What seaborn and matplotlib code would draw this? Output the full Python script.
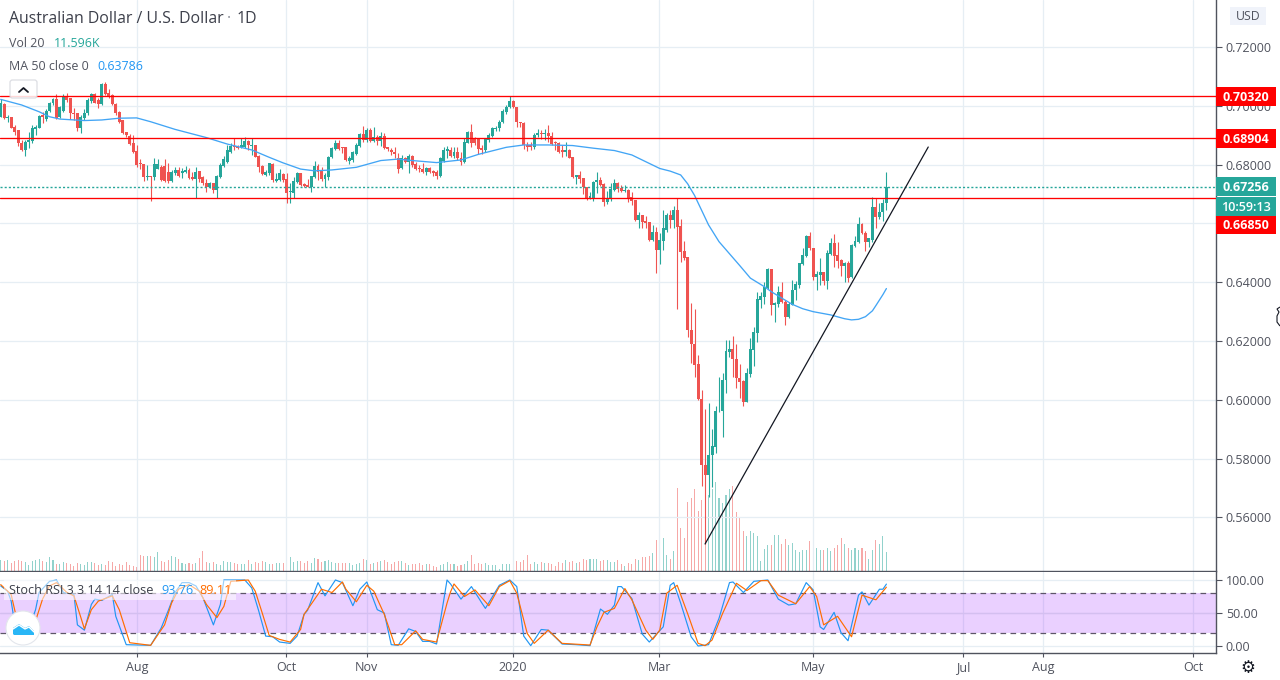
import numpy as np
import matplotlib
matplotlib.use("Agg")
import matplotlib.pyplot as plt
from matplotlib.patches import Rectangle, FancyBboxPatch, Circle, Polygon
from matplotlib.lines import Line2D
from matplotlib.transforms import Affine2D
import seaborn as sns

# ---- prices in 1/10000 of a USD, one entry per daily bar ----
opens = [
6963,7005,6960,6963,6927,6918,6875,6850,6876,6882,
6921,6926,6969,6954,6984,7009,7022,6961,6984,7031,
7026,6977,6975,6924,6958,6975,7017,7040,7020,7006,
7074,7045,7037,7006,6980,6952,6912,6898,6873,6847,
6805,6802,6758,6760,6757,6785,6791,6797,6776,6746,
6771,6782,6773,6776,6782,6759,6751,6779,6757,6737,
6725,6737,6714,6757,6796,6810,6844,6864,6864,6859,
6861,6882,6864,6867,6830,6796,6765,6771,6802,6746,
6748,6768,6750,6706,6705,6742,6771,6733,6731,6725,
6759,6796,6779,6750,6757,6825,6852,6873,6859,6859,
6814,6816,6836,6864,6904,6884,6918,6882,6893,6882,
6898,6859,6850,6844,6822,6788,6822,6810,6830,6802,
6788,6785,6776,6790,6779,6776,6762,6814,6848,6850,
6830,6842,6824,6810,6875,6910,6890,6887,6856,6850,
6884,6898,6920,6924,6944,6980,6995,7018,6995,6946,
6943,6867,6867,6859,6901,6907,6904,6909,6898,6878,
6875,6850,6844,6850,6825,6759,6765,6756,6725,6686,
6688,6740,6748,6734,6673,6686,6714,6737,6720,6712,
6714,6689,6680,6612,6629,6609,6604,6544,6571,6510,
6542,6578,6629,6612,6646,6592,6507,6487,6238,6190,
6122,6004,5779,5745,5811,5841,5961,5961,6066,6164,
6173,6138,6074,6065,5994,6088,6170,6229,6340,6351,
6381,6445,6321,6327,6367,6334,6282,6323,6372,6391,
6462,6490,6558,6517,6419,6425,6435,6406,6496,6533,
6493,6476,6456,6466,6417,6524,6537,6598,6569,6537,
6543,6657,6621,6638,6668]
highs = [
7022,7009,6969,6963,6935,6918,6884,6884,6912,6935,
6935,6969,6980,6988,7014,7026,7040,7000,7040,7045,
7026,6992,6975,6969,6988,7026,7043,7043,7026,7079,
7080,7056,7040,7009,6984,6952,6912,6904,6901,6867,
6818,6802,6799,6760,6822,6818,6799,6818,6805,6782,
6793,6791,6788,6796,6788,6776,6791,6779,6763,6751,
6742,6737,6765,6805,6830,6867,6875,6890,6867,6892,
6895,6884,6890,6867,6833,6799,6782,6807,6805,6771,
6784,6773,6773,6737,6757,6776,6771,6737,6750,6762,
6814,6802,6791,6771,6830,6861,6884,6884,6861,6861,
6830,6848,6873,6909,6932,6924,6924,6929,6901,6912,
6909,6861,6856,6859,6839,6833,6827,6835,6833,6810,
6799,6805,6793,6791,6782,6782,6827,6861,6864,6859,
6859,6859,6844,6890,6916,6938,6893,6890,6867,6890,
6907,6929,6932,6952,6988,7003,7034,7020,6995,6946,
6946,6878,6878,6909,6920,6918,6920,6935,6912,6882,
6878,6867,6878,6852,6827,6765,6780,6756,6725,6708,
6746,6776,6759,6737,6711,6737,6750,6742,6731,6731,
6716,6708,6680,6640,6629,6626,6604,6595,6587,6569,
6646,6635,6646,6660,6686,6614,6541,6487,6329,6308,
6153,6034,5968,5989,5900,5980,6077,6093,6204,6204,
6218,6190,6122,6068,6108,6210,6249,6366,6368,6400,
6450,6445,6334,6388,6400,6340,6334,6408,6406,6467,
6516,6561,6572,6517,6439,6481,6436,6510,6550,6564,
6538,6478,6470,6473,6529,6558,6621,6601,6575,6550,
6689,6686,6671,6683,6774]
lows = [
6961,6954,6946,6924,6901,6864,6847,6831,6856,6875,
6901,6924,6941,6949,6980,7003,6954,6957,6980,7014,
6954,6952,6916,6909,6952,6969,7009,7009,6992,7003,
7037,7026,7003,6969,6941,6904,6895,6867,6839,6793,
6785,6745,6748,6678,6748,6785,6746,6742,6737,6742,
6765,6759,6754,6771,6751,6748,6686,6742,6731,6708,
6720,6705,6686,6754,6793,6805,6839,6850,6852,6856,
6856,6850,6833,6825,6776,6765,6762,6765,6742,6742,
6746,6742,6671,6671,6686,6737,6728,6725,6723,6708,
6754,6748,6746,6723,6748,6822,6850,6850,6839,6814,
6802,6810,6833,6859,6878,6878,6878,6878,6867,6864,
6852,6848,6833,6822,6771,6784,6807,6771,6793,6782,
6776,6771,6765,6773,6762,6750,6757,6810,6822,6827,
6822,6816,6799,6805,6873,6859,6867,6836,6836,6844,
6878,6895,6916,6916,6941,6972,6992,6992,6927,6929,
6852,6848,6850,6852,6895,6886,6884,6878,6867,6850,
6839,6827,6830,6822,6754,6734,6737,6700,6680,6682,
6678,6703,6728,6660,6666,6678,6711,6708,6706,6708,
6674,6663,6610,6586,6586,6586,6541,6542,6433,6463,
6510,6572,6584,6584,6308,6470,6476,6215,6125,6079,
6000,5706,5510,5670,5704,5819,5960,5873,6025,6145,
6077,6040,6006,5980,5994,6079,6116,6198,6314,6327,
6378,6287,6265,6317,6329,6256,6280,6321,6340,6382,
6459,6487,6510,6408,6374,6391,6391,6378,6493,6453,
6448,6423,6402,6402,6414,6519,6535,6564,6507,6519,
6538,6584,6614,6610,6646]
closes = [
7009,6958,6963,6924,6912,6873,6850,6878,6884,6924,
6927,6966,6963,6984,7011,7022,6958,6997,7031,7020,
6975,6972,6924,6963,6977,7020,7040,7009,7006,7074,
7040,7034,7005,6975,6946,6907,6901,6870,6844,6799,
6802,6757,6762,6757,6802,6802,6748,6746,6746,6776,
6782,6763,6780,6782,6754,6751,6776,6751,6737,6725,
6737,6714,6762,6799,6818,6850,6864,6859,6857,6867,
6882,6867,6867,6825,6791,6768,6776,6805,6748,6750,
6771,6748,6703,6711,6745,6771,6731,6729,6725,6762,
6796,6776,6750,6765,6827,6856,6873,6852,6856,6816,
6822,6844,6867,6904,6884,6918,6882,6895,6882,6898,
6856,6852,6842,6836,6785,6822,6810,6830,6799,6784,
6784,6776,6790,6776,6771,6762,6822,6850,6852,6830,
6842,6822,6810,6878,6912,6875,6875,6852,6850,6886,
6901,6926,6926,6946,6984,6997,7018,6995,6946,6941,
6867,6861,6859,6901,6907,6903,6909,6898,6870,6873,
6842,6844,6850,6824,6757,6765,6751,6723,6682,6695,
6742,6748,6731,6674,6686,6716,6737,6716,6711,6714,
6683,6678,6612,6630,6606,6603,6544,6571,6510,6544,
6585,6629,6612,6646,6589,6504,6482,6236,6189,6119,
6002,5777,5745,5813,5844,5963,5963,6068,6167,6172,
6138,6073,6062,5994,6091,6173,6230,6342,6354,6383,
6445,6321,6330,6367,6334,6282,6327,6374,6395,6467,
6493,6559,6515,6417,6428,6435,6406,6500,6533,6490,
6473,6456,6466,6414,6527,6541,6598,6567,6537,6549,
6657,6621,6638,6669,6725.6]

# volume in thousands, latest bar last
volumes = [
7,6,
7,5,6,6.6,6,5.6,3.6,6,7,7.6,6,5.4,8.4,6.6,4.4,4,5.4,5,4.4,3.2,
5,4,3.6,5.6,5.4,5,3.6,4,3.4,6,5.6,3,4,3.6,5.4,3.6,3,2.6,10,9.4,
9.2,9.2,8.4,11.4,6,5.6,7,9.4,8.4,7.6,4.8,4,4.6,4,5,8,12,5.4,5,5.4,
4,3.4,6,5.4,5.6,5,4.4,4.4,4.4,6.4,4,5.4,4.6,6,5.4,4,4,5,5,5,
4.4,8.4,5.4,6,6,5,6,5,8,7.6,5.6,6,6.4,5.6,5,4.6,4.6,5,5,3.6,
4,5,7.4,7,4.4,5,5.4,6,7,5.4,4,5.6,6,6,5,3.6,4.4,4.4,5,3.6,
4.4,4,3,2.6,3.4,4.4,5.4,
4,4,3,3.6,4.4,6,9.6,4,5,4,5,3.6,3.6,3.6,1,4.4,4.4,4.4,5,6,
5.6,6.4,9.6,4.4,5.6,4.4,5.4,5,5,4.4,3,5.4,5,6.6,5.6,6,5,5.6,7.4,6.6,
7.4,7.4,7.4,6,6.6,6.6,5.4,5.4,7,4.4,3,5,4.4,7.6,6.4,8.4,8.4,9.4,11,18.6,
19,20.4,10,7.6,12,50.4,26.4,20.4,42,44.4,50,36.6,43,54,46.6,50,54,44.2,41.6,46.2,
50,51.6,36,32.6,24.6,21.6,24.6,23.2,21.6,6,13.2,15.6,15.6,22,22,16.2,19.6,15.6,17.2,12.6,
11.6,13,12.6,18,13.2,13.8,12.6,12.6,13.8,12,13.8,15.6,20.2,16.6,14.2,12.6,14.2,12.6,13.8,12,
7.2,12.6,18.6,16.6,21.6,11.596]

ma_bars = [1,7,12,15,18,25,30,35,40,44,51,60,66,73,78,82,87,91,96,103,110,115,119,126,133,138,
           146,151,158,165,171,177,182,186,190,193,196,198,200,202,204,207,210,213,216,220,222,225,228,231,234,239,243,245,247,249,251,252,254,255]
ma_values = [7022,7003,6980,6963,6955,6950,6952,6958,6959,6946,6920,6892,6870,6850,6825,6806,6785,6779,6782,6791,6814,6819,6814,6807,6816,6835,
             6859,6867,6867,6865,6856,6848,6833,6810,6787,6778,6765,6735,6695,6645,6595,6538,6497,6456,6414,6385,6368,6346,6325,6310,6300,6289,6276,6272,6274,6283,6303,6321,6358,6378.6]

k_bars = [1,3,4,5,7,9,11,12,15,17,19,22,23,25,27,28,30,33,34,37,44,47,49,51,53,55,57,59,62,64,65,71,73,75,77,79,81,84,86,88,89,92,94,97,99,102,104,106,109,111,113,115,118,120,122,124,126,129,
          130,133,136,139,140,144,147,149,151,153,156,158,162,166,170,173,175,177,178,179,182,185,187,191,193,194,196,199,201,204,207,210,211,214,217,221,224,227,229,232,234,236,237,240,242,244,247,248,250,253,254,255]
k_values = [91,83,68,35,25,25,55,81,98,100,81,78,32,24,63,71,69,78,45,2,1,27,53,81,96,96,91,73,32,63,100,100,88,53,15,14,6,4,15,48,54,96,76,100,96,61,86,97,55,50,2,1,26,22,7,7,3,100,
            94,71,90,65,57,92,100,90,15,0.5,25,24,3,2,0.5,56,48,62,90,90,72,18,6,29,92,96,65,14,0,2,42,96,97,81,98,100,71,62,64,96,85,29,25,51,20,8,77,82,62,86,86,93.76]
d_bars = [1,4,6,9,11,13,15,17,20,22,24,25,27,29,33,35,38,44,48,50,52,55,58,60,63,65,67,72,74,76,78,81,84,87,88,90,93,96,99,100,103,106,108,111,114,116,120,122,126,129,
          130,131,134,137,141,144,147,149,152,154,158,162,170,172,174,177,180,182,186,188,190,192,195,198,201,203,205,208,212,215,219,221,224,229,233,235,237,241,245,248,252,255]
d_values = [93,78,32,22,38,71,91,96,81,76,43,26,55,68,76,55,5,1,32,65,86,93,83,63,43,60,98,100,83,50,16,10,6,25,48,63,86,81,97,86,67,92,83,48,2,2,23,10,6,65,
            82,94,75,85,61,90,99,80,19,4,24,4,1.5,29,51,57,87,70,24,10,24,80,92,49,4,0.5,9,49,95,84,99,99,77,64,90,75,32,45,14,77,70,89.11]

month_labels = ["Aug", "Oct", "Nov", "2020", "Mar", "May", "Jul", "Aug", "Oct"]
month_bars = [40.1, 82.8, 106.0, 147.9, 189.8, 234.0, 277.0, 300.0, 343.0]
price_ticks = [0.56, 0.58, 0.60, 0.62, 0.64, 0.66, 0.68, 0.70, 0.72]
hline_levels = [0.70320, 0.68904, 0.66850]
last_price = 0.67256
trend_bars = [203, 267]
trend_prices = [0.5510, 0.6860]

# ---- style ----
sns.set_style("white")
plt.rcParams['font.family'] = ['Open Sans', 'DejaVu Sans']
GREEN, RED = '#26a69a', '#ef5350'
TXT = '#50535e'
GRID = '#e6eef4'
AXC = '#50535e'

W, H = 1280, 680
AX_W = 1216
fig = plt.figure(figsize=(W/100, H/100), dpi=100, facecolor='white')
px = Affine2D().scale(1, -1).translate(0, H)

XL = (0.8, 1 + (AX_W - 0.7) / 3.487)
ax_vol = fig.add_axes([0, (H-571)/H, AX_W/W, 571/H], zorder=1)
ax = fig.add_axes([0, (H-571)/H, AX_W/W, 571/H], zorder=2)
ax.patch.set_visible(False)
ax_st = fig.add_axes([0, (H-653)/H, AX_W/W, 81/H], zorder=2)

o, h, l, c = [np.array(a, dtype=float)/10000 for a in (opens, highs, lows, closes)]
bars = np.arange(1, len(o)+1)
up = c >= o
col = np.where(up, GREEN, RED)

# volume, aligned to the latest bar
vol = np.array(volumes[-len(o):])
vbars = bars[-len(vol):]
ax_vol.bar(vbars, vol, width=0.3, color=col[-len(vol):], alpha=0.5, linewidth=0)
ax_vol.set_xlim(*XL); ax_vol.set_ylim(0, 348)
ax_vol.set_xticks([]); ax_vol.set_yticks([])
for s in ax_vol.spines.values():
    s.set_visible(False)

# grid
ax.set_xlim(*XL); ax.set_ylim(0.5418, 0.7360)
ax.set_yticks(price_ticks)
ax.set_yticklabels([f"{t:.5f}" for t in price_ticks])
ax.set_xticks(month_bars); ax.set_xticklabels([])
ax.grid(True, color=GRID, linewidth=0.9, zorder=0)
ax.set_axisbelow(True)
ax.yaxis.tick_right()
ax.tick_params(axis='y', length=4, width=0.8, color=AXC, labelcolor=TXT, labelsize=9, pad=3)
ax.tick_params(axis='x', length=0)
for s in ('top', 'left'):
    ax.spines[s].set_visible(False)
ax.spines['right'].set_color(AXC); ax.spines['bottom'].set_color(AXC)
ax.spines['right'].set_linewidth(1); ax.spines['bottom'].set_linewidth(1)

# candles
ax.vlines(bars, l, h, colors=col, linewidth=0.8, zorder=3)
ax.bar(bars, np.maximum(np.abs(c-o), 0.00025), bottom=np.minimum(o, c), width=0.85, color=col, linewidth=0, zorder=3)

# moving average, levels, trend line
sns.lineplot(x=ma_bars, y=np.array(ma_values)/10000, ax=ax, color='#42a5f5', linewidth=0.95, estimator=None, sort=False, zorder=4)
for lv in hline_levels:
    ax.axhline(lv, color='#ff0000', linewidth=0.95, zorder=5)
ax.axhline(last_price, color=GREEN, linewidth=1.0, linestyle=(0, (1.5, 1.5)), zorder=5)
sns.lineplot(x=trend_bars, y=trend_prices, ax=ax, color='#131722', linewidth=0.9, estimator=None, zorder=5)
ax.set_xlabel(''); ax.set_ylabel('')

# Stoch RSI pane
ax_st.set_xlim(*XL); ax_st.set_ylim(-10.6, 112.1)
ax_st.axhspan(20, 80, color='#9915ff', alpha=0.2, linewidth=0, zorder=1)
for v in (80, 20):
    ax_st.axhline(v, color='#5d5668', linewidth=0.9, linestyle=(0, (4.5, 3.5)), zorder=2)
ax_st.axhline(50, color='#d4bff0', linewidth=0.9, zorder=2)
sns.lineplot(x=k_bars, y=k_values, ax=ax_st, color='#2196f3', linewidth=0.85, estimator=None, sort=False, zorder=3)
sns.lineplot(x=d_bars, y=d_values, ax=ax_st, color='#ff6d00', linewidth=0.85, estimator=None, sort=False, zorder=4)
ax_st.set_xlabel(''); ax_st.set_ylabel('')
ax_st.set_yticks([0, 50, 100]); ax_st.set_yticklabels(["0.00", "50.00", "100.00"])
ax_st.yaxis.tick_right()
ax_st.set_xticks(month_bars); ax_st.set_xticklabels(month_labels)
ax_st.grid(True, color=GRID, linewidth=0.9, zorder=0)
ax_st.set_axisbelow(True)
ax_st.tick_params(axis='y', length=4, width=0.8, color=AXC, labelcolor=TXT, labelsize=9, pad=3)
ax_st.tick_params(axis='x', length=3, width=0.8, color=AXC, labelcolor=TXT, labelsize=9, pad=3, bottom=True)
for s in ('top', 'left'):
    ax_st.spines[s].set_visible(False)
ax_st.spines['right'].set_color(AXC); ax_st.spines['bottom'].set_color(AXC)
ax_st.spines['right'].set_linewidth(1); ax_st.spines['bottom'].set_linewidth(1)

def T(x, y, s, **kw):
    kw.setdefault('va', 'center'); kw.setdefault('ha', 'left'); kw.setdefault('zorder', 20)
    return fig.text(x, y, s, transform=px, **kw)

def box(x0, y0, x1, y1, fc, **kw):
    kw.setdefault('zorder', 15)
    fig.add_artist(Rectangle((x0, y0), x1-x0, y1-y0, transform=px, facecolor=fc, edgecolor='none', **kw))

# legends
T(9, 19, "Australian Dollar / U.S. Dollar", fontsize=11.4, color='#3c3f4a')
T(227, 19, "·", fontsize=11.4, color='#9598a1')
T(237, 19, "1D", fontsize=11.4, color='#3c3f4a')
T(9, 43.5, "Vol 20", fontsize=8.9, color=TXT)
T(54, 43.5, "11.596K", fontsize=8.9, color=GREEN)
T(9, 67, "MA 50 close 0", fontsize=8.9, color=TXT)
T(97, 67, "0.63786", fontsize=8.9, color='#2196f3')

# collapse button
fig.add_artist(FancyBboxPatch((10, 80), 27, 18, boxstyle="round,pad=0,rounding_size=2.5", transform=px,
                              facecolor='white', edgecolor='#d6d8de', linewidth=0.9, alpha=0.85, zorder=15))
fig.add_artist(Line2D([19, 23.5, 28], [92, 88, 92], transform=px, color='#131722', linewidth=1.3, zorder=16))

# Stoch legend
box(4, 580, 236, 600, 'white', alpha=0.55, zorder=6)
T(9, 590, "Stoch RSI 3 3 14 14 close", fontsize=9.1, color='#3c3f4a')
T(161, 590, "93.76", fontsize=9.1, color='#2196f3')
T(199, 590, "89.11", fontsize=9.1, color='#ff6d00')

# logo
fig.add_artist(Circle((23, 628), 17, transform=px, facecolor='white', edgecolor='#e3e6ec', linewidth=0.8, zorder=15))
fig.add_artist(Polygon([(13, 634), (13, 628), (19, 624), (25, 628), (29, 626), (34, 631), (34, 635), (14, 635)],
                       closed=True, transform=px, facecolor='#29b6f6', edgecolor='none', zorder=16))
fig.add_artist(Line2D([13, 19, 25, 29, 34], [629, 625, 629, 627, 632], transform=px, color='white', linewidth=1, zorder=17))

# USD box
box(1230, 7, 1266, 25, '#f0f3fa')
T(1248, 17, "USD", fontsize=8.8, color=TXT, ha='center')

# price labels on the scale
labels = [(87, 106, "0.70320", '#ff0000'), (129, 148, "0.68904", '#ff0000'), (177, 196, "0.67256", GREEN),
          (197, 215.5, "10:59:13", GREEN), (215.5, 233.5, "0.66850", '#ff0000')]
for y0, y1, txt, fc in labels:
    box(1216, y0, 1276, y1, fc)
    T(1246, (y0+y1)/2+1, txt, fontsize=9, color='white', ha='center', fontweight='bold' if txt != "10:59:13" else 'semibold')

# gear and cursor glyphs
T(1248, 668, "\u2699", fontsize=12, color='#131722', ha='center', family='DejaVu Sans')
fig.add_artist(Polygon([(1280, 307), (1277, 309), (1279, 312), (1277, 316), (1277, 322), (1280, 326)], closed=False,
                       transform=px, facecolor='white', edgecolor='#131722', linewidth=0.8, zorder=16))

fig.savefig('out.png', dpi=100)
